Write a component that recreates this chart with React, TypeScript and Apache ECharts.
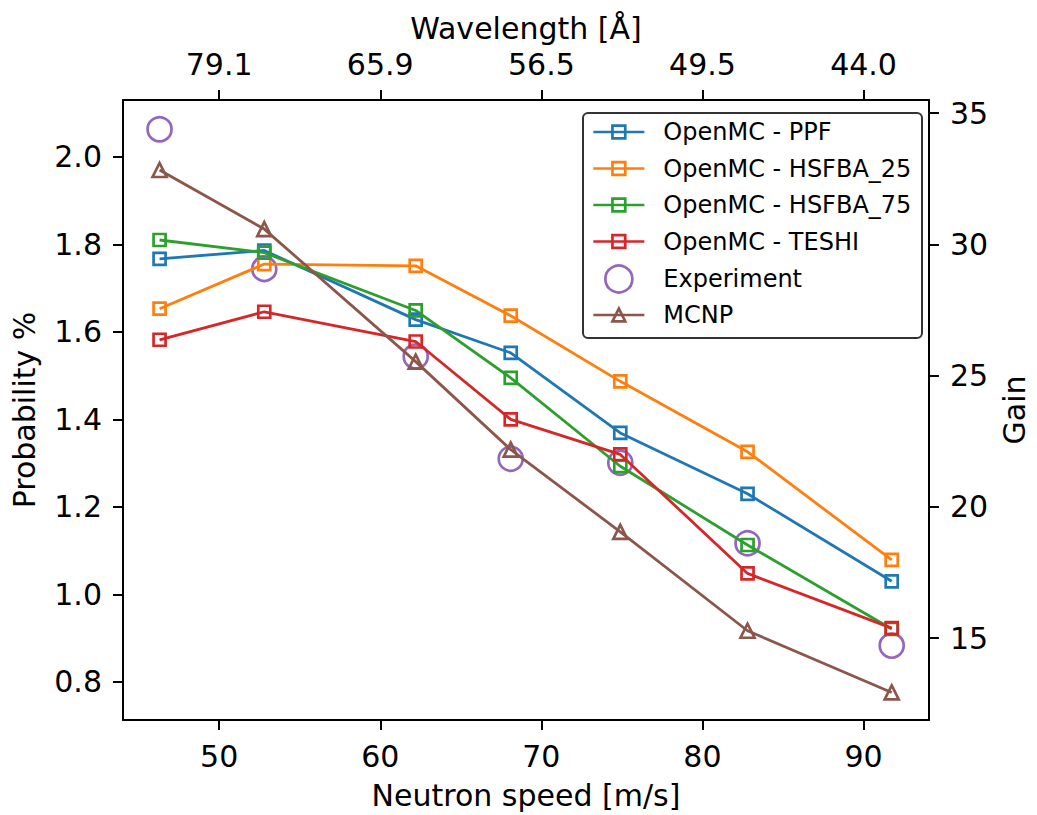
import React, { useEffect, useRef } from "react";
import * as echarts from "echarts";

// Neutron speed [m/s]
const speeds = [46.3, 52.8, 62.2, 68.1, 74.9, 82.8, 91.75];
// Probability %
const ppf = [1.767, 1.786, 1.628, 1.552, 1.369, 1.23, 1.03];
const hsfba25 = [1.653, 1.755, 1.751, 1.637, 1.487, 1.326, 1.079];
const hsfba75 = [1.81, 1.781, 1.649, 1.495, 1.293, 1.113, 0.921];
const teshi = [1.582, 1.646, 1.578, 1.4, 1.32, 1.048, 0.923];
const experiment = [2.063, 1.744, 1.544, 1.31, 1.301, 1.117, 0.883];
const mcnp = [1.97, 1.835, 1.532, 1.331, 1.143, 0.917, 0.776];

const speedTicks = [50, 60, 70, 80, 90];
const wavelengthLabels = ["79.1", "65.9", "56.5", "49.5", "44.0"];
const probTicks = [0.8, 1.0, 1.2, 1.4, 1.6, 1.8, 2.0];
const gainTicks = [15, 20, 25, 30, 35];
const gainPerProb = 1 / 0.06;

const seriesNames = [
  "OpenMC - PPF",
  "OpenMC - HSFBA_25",
  "OpenMC - HSFBA_75",
  "OpenMC - TESHI",
  "Experiment",
  "MCNP",
];
const colors = ["#1f77b4", "#ff7f0e", "#2ca02c", "#d62728", "#9467bd", "#8c564b"];

const FONT = "DejaVu Sans";
const X_MIN = 44.03;
const X_MAX = 94.06;
const Y_MIN = 0.713;
const Y_MAX = 2.13;

export default function App() {
  const ref = useRef<HTMLDivElement>(null);

  useEffect(() => {
    if (!ref.current) return;
    const chart = echarts.init(ref.current, undefined, { renderer: "svg" });

    const pairs = (ys: number[]) => speeds.map((x, i) => [x, ys[i]]);
    const lineSeries = (name: string, ys: number[], color: string, symbol: string, size: number) => ({
      name,
      type: "line",
      data: pairs(ys),
      xAxisIndex: 0,
      yAxisIndex: 0,
      symbol,
      symbolSize: size,
      showAllSymbol: true,
      lineStyle: { color, width: 2.8 },
      itemStyle: { color: "rgba(0,0,0,0)", borderColor: color, borderWidth: 2.7 },
      emphasis: { disabled: true },
    });

    const axisLine = { show: true, onZero: false, lineStyle: { color: "#000", width: 2 } };
    const tickStyle = { color: "#000", width: 2 };
    const labelBase = { fontSize: 30, color: "#000", fontFamily: FONT, margin: 21 };
    const nameStyle = { fontSize: 30, color: "#000", fontFamily: FONT };

    const legendBase = {
      orient: "vertical",
      left: 592,
      padding: 0,
      itemWidth: 51,
      itemGap: 6.5,
      selectedMode: false,
      textStyle: { fontSize: 24, fontFamily: FONT, color: "#000", lineHeight: 30, padding: [0, 0, 0, 14] },
      lineStyle: { width: 2.7 },
      itemStyle: { borderWidth: 2.7 },
      z: 5,
    };

    chart.setOption({
      animation: false,
      backgroundColor: "#fff",
      textStyle: { fontFamily: FONT },
      grid: { left: 123, right: 104, top: 100, bottom: 94, containLabel: false },
      xAxis: [
        {
          type: "value",
          position: "bottom",
          min: X_MIN,
          max: X_MAX,
          name: "Neutron speed [m/s]",
          nameLocation: "middle",
          nameGap: 60,
          nameTextStyle: nameStyle,
          axisLine,
          axisTick: { show: true, length: 10, customValues: speedTicks, lineStyle: tickStyle },
          axisLabel: { ...labelBase, customValues: speedTicks, formatter: (v: number) => String(v) },
          splitLine: { show: false },
        },
        {
          type: "value",
          position: "top",
          min: X_MIN,
          max: X_MAX,
          name: "Wavelength [Å]",
          nameLocation: "middle",
          nameGap: 57,
          nameTextStyle: nameStyle,
          axisLine,
          axisTick: { show: true, length: 10, customValues: speedTicks, lineStyle: tickStyle },
          axisLabel: {
            ...labelBase,
            customValues: speedTicks,
            formatter: (v: number) => {
              const i = speedTicks.findIndex((t) => Math.abs(t - v) < 1e-6);
              return i >= 0 ? wavelengthLabels[i] : "";
            },
          },
          splitLine: { show: false },
        },
      ],
      yAxis: [
        {
          type: "value",
          position: "left",
          min: Y_MIN,
          max: Y_MAX,
          name: "Probability %",
          nameLocation: "middle",
          nameGap: 84,
          nameTextStyle: nameStyle,
          axisLine,
          axisTick: { show: true, length: 10, customValues: probTicks, lineStyle: tickStyle },
          axisLabel: { ...labelBase, customValues: probTicks, formatter: (v: number) => v.toFixed(1) },
          splitLine: { show: false },
        },
        {
          type: "value",
          position: "right",
          min: Y_MIN * gainPerProb,
          max: Y_MAX * gainPerProb,
          alignTicks: false,
          name: "Gain",
          nameLocation: "middle",
          nameGap: 70,
          nameTextStyle: nameStyle,
          axisLine,
          axisTick: { show: true, length: 10, customValues: gainTicks, lineStyle: tickStyle },
          axisLabel: { ...labelBase, customValues: gainTicks, formatter: (v: number) => String(Math.round(v)) },
          splitLine: { show: false },
        },
      ],
      legend: [
        { ...legendBase, top: 117, itemHeight: 16, data: seriesNames.slice(0, 4) },
        { ...legendBase, left: 604, top: 264, itemHeight: 27, data: [seriesNames[4]] },
        { ...legendBase, top: 300, itemHeight: 16, data: [seriesNames[5]] },
      ],
      graphic: [
        {
          type: "rect",
          z: 4,
          shape: { x: 583, y: 113, width: 339, height: 225, r: 5 },
          style: { fill: "#fff", stroke: "#333", lineWidth: 2 },
        },
      ],
      series: [
        lineSeries(seriesNames[0], ppf, colors[0], "rect", 12),
        lineSeries(seriesNames[1], hsfba25, colors[1], "rect", 12),
        lineSeries(seriesNames[2], hsfba75, colors[2], "rect", 12),
        lineSeries(seriesNames[3], teshi, colors[3], "rect", 12),
        {
          name: seriesNames[4],
          type: "scatter",
          data: pairs(experiment),
          xAxisIndex: 0,
          yAxisIndex: 0,
          symbol: "circle",
          symbolSize: 24,
          itemStyle: { color: "rgba(0,0,0,0)", borderColor: colors[4], borderWidth: 2.7, opacity: 1 },
          emphasis: { disabled: true },
        },
        lineSeries(seriesNames[5], mcnp, colors[5], "triangle", 14),
      ],
    });

    return () => chart.dispose();
  }, []);

  return (
    <div
      ref={ref}
      style={{ position: "fixed", left: 0, top: 0, width: 1037, height: 815, background: "#fff" }}
    />
  );
}
